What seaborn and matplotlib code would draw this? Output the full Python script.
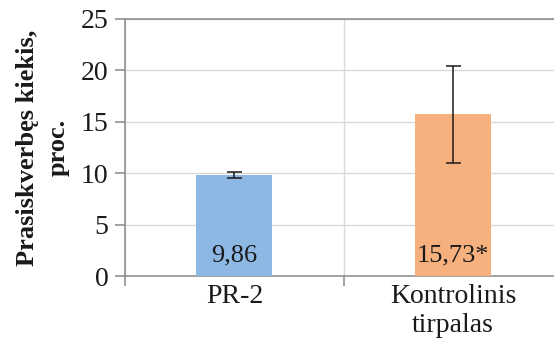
import matplotlib
matplotlib.use("Agg")
import matplotlib.pyplot as plt
import seaborn as sns
import pandas as pd
from matplotlib.ticker import FixedLocator

# Permeated amount (%) per solution, with error bar half-widths
categories = ["PR-2", "Kontrolinis\ntirpalas"]
values = [9.86, 15.73]
errors = [0.3, 4.7]
value_labels = ["9,86", "15,73*"]
bar_colors = ["#8DB8E3", "#F5B07E"]
y_ticks = [0, 5, 10, 15, 20, 25]

sns.set_theme(style="white")
plt.rcParams["font.family"] = ["Liberation Serif", "DejaVu Serif"]

df = pd.DataFrame({"category": categories, "value": values})

fig = plt.figure(figsize=(5.54, 3.42), dpi=100)
ax = fig.add_axes([125 / 554, 66 / 342, 437.5 / 554, 257 / 342])

sns.barplot(data=df, x="category", y="value", hue="category",
            palette=bar_colors, width=0.347, errorbar=None,
            legend=False, ax=ax, saturation=1, zorder=3, linewidth=0)

ax.errorbar(range(len(values)), values, yerr=errors, fmt="none",
            ecolor="#1a1a1a", elinewidth=1.1, capsize=5.4, capthick=1.1,
            zorder=4)

for i, (v, lab) in enumerate(zip(values, value_labels)):
    ax.text(i, 0.9, lab, ha="center", va="bottom", fontsize=19,
            color="#1a1a1a", zorder=5)

ax.set_ylim(0, 25)
ax.set_xlim(-0.5, 1.5)
ax.set_yticks(y_ticks)
ax.set_yticklabels([str(t) for t in y_ticks])
ax.xaxis.set_minor_locator(FixedLocator([-0.5, 0.5, 1.5]))

ax.grid(axis="y", which="major", color="#D9D9D9", lw=1.0, zorder=0)
ax.grid(axis="x", which="minor", color="#D9D9D9", lw=1.0, zorder=0)
ax.set_axisbelow(True)

for side in ["left", "bottom", "top"]:
    ax.spines[side].set_visible(True)
    ax.spines[side].set_color("#898989")
    ax.spines[side].set_linewidth(1.1)
ax.spines["right"].set_visible(False)

ax.tick_params(axis="y", which="major", direction="out", length=7,
               width=1.1, color="#898989", labelsize=20, pad=5,
               labelcolor="#1a1a1a", left=True)
ax.tick_params(axis="x", which="major", length=0, labelsize=20, pad=6,
               labelcolor="#1a1a1a")
ax.tick_params(axis="x", which="minor", direction="out", length=7,
               width=1.1, color="#898989", bottom=True)

ax.set_xlabel("")
ax.set_ylabel("Prasiskverbęs kiekis,\nproc.", fontsize=19,
              fontweight="bold", color="#1a1a1a", labelpad=8,
              linespacing=1.4)

fig.savefig("out.png", dpi=100)
